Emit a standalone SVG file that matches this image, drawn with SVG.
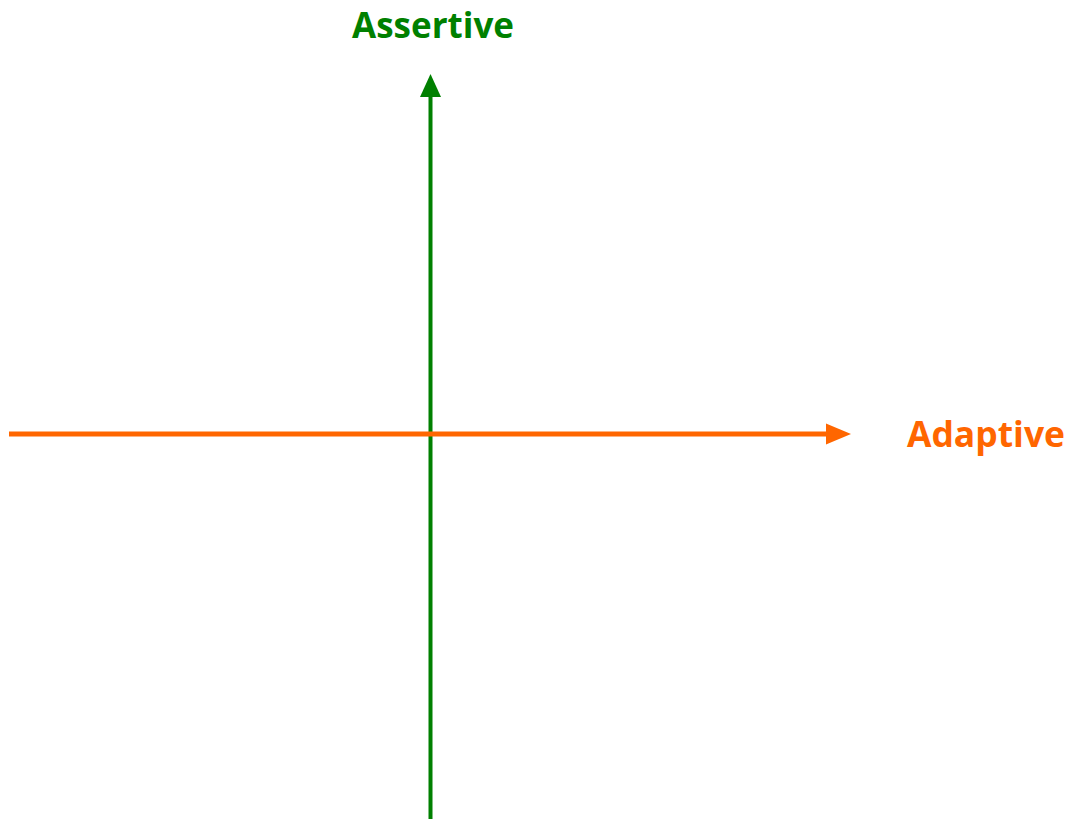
<svg xmlns="http://www.w3.org/2000/svg" width="1075" height="819" viewBox="0 0 1075 819">
<style>
.lbl{font-family:"Open Sans","Liberation Sans",sans-serif;font-weight:bold;font-size:35px}
</style>
<rect width="1075" height="819" fill="#fff"/>
<g id="connectors">
<line x1="430.5" y1="819" x2="430.5" y2="95" stroke="#008000" stroke-width="4"/>
<polygon points="430.5,74 420,97 441,97" fill="#008000"/>
<line x1="9" y1="434" x2="828" y2="434" stroke="#FF6600" stroke-width="5"/>
<polygon points="851,434 826,423.5 826,444.5" fill="#FF6600"/>
</g>
<g id="assertive"><text class="lbl" x="352" y="38" fill="#008000" textLength="162" lengthAdjust="spacingAndGlyphs">Assertive</text></g>
<g id="adaptive"><text class="lbl" x="907" y="447" fill="#FF6600" textLength="158" lengthAdjust="spacingAndGlyphs">Adaptive</text></g>
</svg>
